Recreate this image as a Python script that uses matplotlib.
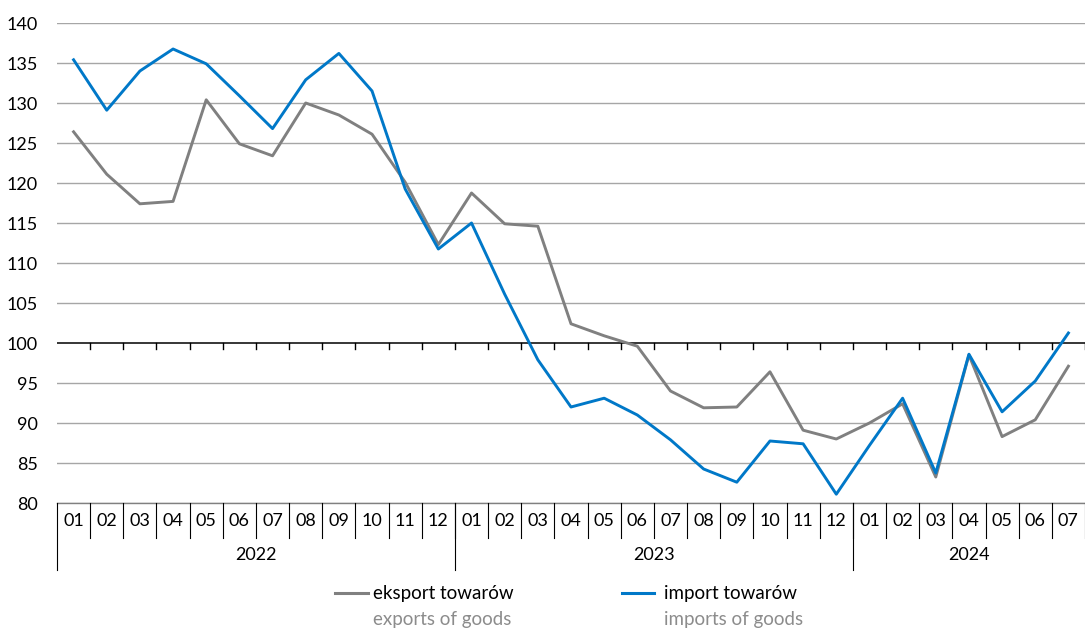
import matplotlib
matplotlib.use('Agg')
import matplotlib.pyplot as plt
from matplotlib.lines import Line2D

plt.rcParams['font.family'] = ['Lato', 'DejaVu Sans']

months = ['01', '02', '03', '04', '05', '06', '07', '08', '09', '10', '11', '12'] * 2 + \
         ['01', '02', '03', '04', '05', '06', '07']
years = ['2022', '2023', '2024']
year_len = [12, 12, 7]

eksport = [126.4, 121.1, 117.4, 117.7, 130.4, 124.9, 123.4, 130.0, 128.5, 126.1, 120.1, 112.3,
           118.75, 114.9, 114.6, 102.4, 100.9, 99.6, 94.0, 91.9, 92.0, 96.4, 89.1, 88.0,
           90.0, 92.4, 83.25, 98.5, 88.3, 90.4, 97.1]
import_ = [135.4, 129.1, 134.0, 136.75, 134.9, 130.9, 126.8, 132.9, 136.2, 131.5, 119.25, 111.75,
           115.0, 106.1, 97.9, 92.0, 93.1, 91.0, 87.9, 84.25, 82.6, 87.75, 87.4, 81.1,
           87.2, 93.1, 83.75, 98.6, 91.4, 95.25, 101.25]

grey = '#808080'
blue = '#0078c8'

fig = plt.figure(figsize=(10.85, 6.29), dpi=100)
ax = fig.add_axes([57 / 1085, 1 - 503 / 629, 1028 / 1085, 480 / 629])

x = list(range(len(months)))
n = len(months)

# siatka
for v in range(80, 141, 5):
    if v == 100:
        continue
    ax.axhline(v, color='#a6a6a6', lw=1.0, zorder=1)
ax.axhline(100, color='black', lw=1.1, zorder=2)
for i in range(n):
    ax.plot([i + 0.5, i + 0.5], [100, 99.3], color='black', lw=1.0, zorder=2)

ax.plot(x, eksport, color=grey, lw=2.1, zorder=3)
ax.plot(x, import_, color=blue, lw=2.1, zorder=4)

ax.set_xlim(-0.5, n - 0.5)
ax.set_ylim(80, 140)
ax.set_yticks(range(80, 141, 5))
ax.tick_params(axis='y', length=0, pad=14, labelsize=13)
for s in ax.spines.values():
    s.set_visible(False)

# os X z miesiacami i latami
ax.set_xticks(x)
ax.set_xticklabels(months, fontsize=13)
ax.tick_params(axis='x', length=0, pad=7)
trans = ax.get_xaxis_transform()
px = 1 / 480
ax.plot([-0.5, n - 0.5], [0, 0], color='#808080', lw=1.0, transform=trans, clip_on=False)
for i in range(n):
    ax.plot([i + 0.5, i + 0.5], [0, -35 * px], color='black', lw=0.8, transform=trans, clip_on=False)
start = 0
bounds = [-0.5]
for y, l in zip(years, year_len):
    ax.text(start + l / 2 - 0.5, -52 * px, y, transform=trans, ha='center', va='center', fontsize=13)
    start += l
    bounds.append(start - 0.5)
for b in bounds[:-1]:
    ax.plot([b, b], [0, -67 * px], color='black', lw=0.8, transform=trans, clip_on=False)

# legenda
fig.add_artist(Line2D([335 / 1085, 368 / 1085], [1 - 593 / 629] * 2, color=grey, lw=2.2))
fig.text(373 / 1085, 1 - 593 / 629, 'eksport towarów', fontsize=13.5, va='center')
fig.text(373 / 1085, 1 - 620 / 629, 'exports of goods', fontsize=13.5, va='center', color='#8c8c8c')
fig.add_artist(Line2D([622 / 1085, 654 / 1085], [1 - 593 / 629] * 2, color=blue, lw=2.2))
fig.text(664 / 1085, 1 - 593 / 629, 'import towarów', fontsize=13.5, va='center')
fig.text(664 / 1085, 1 - 620 / 629, 'imports of goods', fontsize=13.5, va='center', color='#8c8c8c')

fig.savefig('out.png', dpi=100)
